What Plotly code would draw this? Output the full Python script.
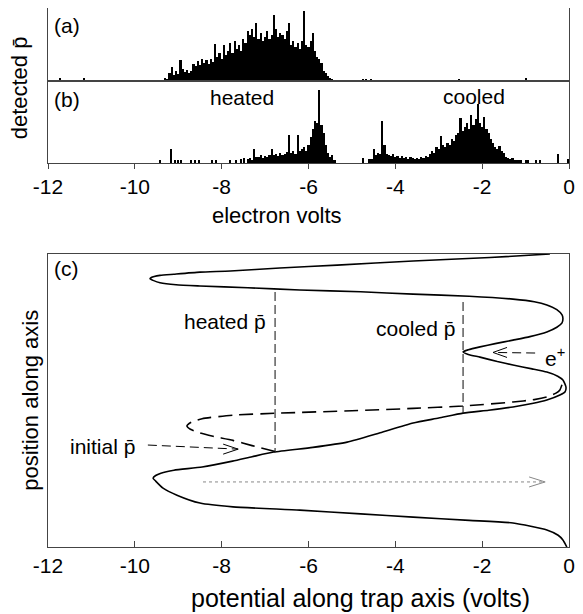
import numpy as np
import plotly.graph_objects as go

# ---- histogram data (detected antiprotons per 0.05 V bin) ----
bin_width = 0.05

# panel (a): no positrons
a_start = -9.30
a_counts = [3, 2, 8, 14, 6, 10, 7, 21, 12, 9, 11, 8, 10, 17, 15, 20, 16, 22, 18, 21,
            17, 22, 19, 37, 24, 28, 22, 36, 26, 30, 38, 28, 40, 32, 36, 30, 42, 38, 50, 46,
            52, 44, 58, 42, 48, 40, 44, 50, 42, 46, 66, 52, 44, 48, 46, 42, 50, 58, 36, 40,
            34, 38, 32, 40, 70, 36, 34, 40, 48, 30, 24, 22, 18, 10, 8, 5, 3, 2]
a_stray_energy = [-11.72, -11.17, -4.75, -4.68, -4.55, -2.53, -0.99]
a_stray_counts = [3, 3, 2, 2, 2, 2, 3]

# panel (b): with positrons, heated and cooled groups
b_heated_start = -7.40
b_heated_counts = [4, 5, 3, 14, 6, 6, 8, 5, 7, 6, 8, 14, 8, 9, 7, 10, 8, 9, 11, 28,
                   10, 12, 9, 28, 12, 14, 16, 12, 18, 26, 34, 42, 40, 73, 38, 30, 18, 10, 6, 8, 3]
b_cooled_start = -4.60
b_cooled_counts = [4, 4, 14, 8, 10, 9, 42, 18, 9, 8, 7, 9, 6, 7, 5, 7, 5, 6, 4, 6,
                   5, 4, 5, 4, 6, 5, 7, 6, 9, 12, 10, 16, 14, 27, 18, 16, 20, 18, 24, 22,
                   28, 30, 45, 32, 36, 40, 34, 48, 38, 44, 59, 40, 36, 46, 34, 30, 24, 20, 16, 14,
                   17, 12, 10, 6, 5, 4, 5, 3, 3, 3, 3, 0, 3, 3]
b_stray_energy = [-9.42, -9.17, -9.07, -9.00, -8.93, -8.70, -8.62, -8.52, -8.22, -8.12,
                  -7.80, -7.66, -7.55, -7.48, -4.75, -0.75, -0.66, -0.25, -0.02]
b_stray_counts = [3, 14, 3, 3, 3, 3, 3, 3, 3, 3, 3, 3, 4, 5, 5, 3, 3, 9, 4]

# ---- panel (c): potential along trap axis ----
solid_v = [-0.44, -1.82, -3.59, -5.34, -6.66, -7.80, -8.50, -9.10, -9.42, -9.62,
           -9.65, -9.58, -9.42, -9.05, -8.50, -7.40, -6.20, -4.80, -3.59, -2.30,
           -1.29, -0.80, -0.51, -0.28, -0.16, -0.14, -0.16, -0.28, -0.51, -0.90,
           -1.29, -1.70, -2.05, -2.32, -2.44, -2.32, -2.05, -1.65, -1.29, -0.85,
           -0.51, -0.26, -0.14, -0.07, -0.09, -0.21, -0.51, -0.85, -1.29, -1.85,
           -2.44, -3.00, -3.59, -4.35, -5.11, -5.90, -6.80, -7.30, -7.75, -8.45,
           -9.10, -9.40, -9.52, -9.58, -9.52, -9.35, -9.03, -8.50, -7.74, -6.20,
           -4.80, -3.59, -2.30, -1.29, -0.51, -0.25, -0.14, -0.05]
solid_pos = [10.00, 9.88, 9.76, 9.62, 9.52, 9.42, 9.38, 9.31, 9.27, 9.20,
             9.15, 9.10, 9.02, 8.95, 8.91, 8.85, 8.77, 8.71, 8.63, 8.56,
             8.46, 8.37, 8.26, 8.10, 7.92, 7.80, 7.65, 7.50, 7.34, 7.18,
             7.06, 6.94, 6.83, 6.73, 6.66, 6.57, 6.48, 6.33, 6.21, 6.08,
             5.97, 5.83, 5.70, 5.46, 5.30, 5.19, 5.02, 4.90, 4.78, 4.67,
             4.57, 4.40, 4.23, 3.90, 3.58, 3.40, 3.24, 3.08, 2.93, 2.73,
             2.62, 2.52, 2.44, 2.35, 2.25, 2.01, 1.77, 1.50, 1.37, 1.26,
             1.13, 1.02, 0.91, 0.82, 0.58, 0.40, 0.24, 0.00]

initial_v = [-6.77, -7.30, -7.74, -8.20, -8.50, -8.72, -8.80, -8.70, -8.45, -7.74,
             -6.66, -5.00, -3.59, -2.44, -1.29, -0.80, -0.51, -0.30, -0.21, -0.16]
initial_pos = [3.26, 3.46, 3.64, 3.78, 3.89, 4.02, 4.13, 4.26, 4.38, 4.50,
               4.57, 4.65, 4.73, 4.81, 4.95, 5.03, 5.12, 5.25, 5.36, 5.55]

heated_v = -6.77
heated_pos = [8.70, 3.26]
cooled_v = -2.44
cooled_pos = [8.36, 4.57]

tick_vals = [-12, -10, -8, -6, -4, -2, 0]
tick_labels = ["-12", "-10", "-8", "-6", "-4", "-2", "0"]

PBAR = "p\u0304"
FONT = "Liberation Sans, Arial, Helvetica, sans-serif"
AXCOL = "#444444"


def bins(start, counts):
    return [round(start + i * bin_width, 3) for i in range(len(counts))]


fig = go.Figure()

fig.add_trace(go.Bar(x=bins(a_start, a_counts), y=a_counts, width=bin_width,
                     marker=dict(color="black", line=dict(width=0)), xaxis="x", yaxis="y"))
fig.add_trace(go.Bar(x=a_stray_energy, y=a_stray_counts, width=0.025,
                     marker=dict(color="black", line=dict(width=0)), xaxis="x", yaxis="y"))

fig.add_trace(go.Bar(x=bins(b_heated_start, b_heated_counts), y=b_heated_counts, width=bin_width,
                     marker=dict(color="black", line=dict(width=0)), xaxis="x2", yaxis="y2"))
fig.add_trace(go.Bar(x=bins(b_cooled_start, b_cooled_counts), y=b_cooled_counts, width=bin_width,
                     marker=dict(color="black", line=dict(width=0)), xaxis="x2", yaxis="y2"))
fig.add_trace(go.Bar(x=b_stray_energy, y=b_stray_counts, width=0.025,
                     marker=dict(color="black", line=dict(width=0)), xaxis="x2", yaxis="y2"))

# trap potential, initial antiproton well, and energy markers
fig.add_trace(go.Scatter(x=solid_v, y=solid_pos, mode="lines", xaxis="x3", yaxis="y3",
                         line=dict(color="black", width=1.6, shape="spline", smoothing=0.55)))
fig.add_trace(go.Scatter(x=initial_v, y=initial_pos, mode="lines", xaxis="x3", yaxis="y3",
                         line=dict(color="black", width=1.6, dash="14px,7px",
                                   shape="spline", smoothing=0.55)))
for v, p in [(heated_v, heated_pos), (cooled_v, cooled_pos)]:
    fig.add_trace(go.Scatter(x=[v, v], y=p, mode="lines", xaxis="x3", yaxis="y3",
                             line=dict(color="#222222", width=1.1, dash="9px,4px")))

# arrows: dashed shafts plus thin open V heads (head size in pixels)
arrows = [((-9.70, 3.48), (-7.62, 3.34), "black", "9px,5px", 15, 5),
          ((-0.78, 6.62), (-1.75, 6.64), "black", "9px,5px", 14, 5),
          ((-8.43, 2.22), (-0.55, 2.22), "#888888", "dot", 16, 5)]
shapes = []
for (x0, y0), (x1, y1), col, dash, hl, hw in arrows:
    shapes.append(dict(type="line", xref="x3", yref="y3", x0=x0, y0=y0, x1=x1, y1=y1,
                       line=dict(color=col, width=1, dash=dash)))
    back = -hl if x1 > x0 else hl
    for side in (hw, -hw):
        shapes.append(dict(type="line", xref="x3", yref="y3", xsizemode="pixel",
                           ysizemode="pixel", xanchor=x1, yanchor=y1,
                           x0=0, y0=0, x1=back, y1=side,
                           line=dict(color=col, width=1)))

annotations = []
label_font = dict(family=FONT, size=21, color="black")
texts = [
    ("(a)", "x", "y", -11.9, 56, "left"),
    ("(b)", "x2", "y2", -11.9, 63, "left"),
    ("heated", "x2", "y2", -7.53, 65, "center"),
    ("cooled", "x2", "y2", -2.19, 66, "center"),
    ("(c)", "x3", "y3", -11.9, 9.52, "left"),
    ("heated " + PBAR, "x3", "y3", -6.93, 7.68, "right"),
    ("cooled " + PBAR, "x3", "y3", -2.58, 7.47, "right"),
    ("initial " + PBAR, "x3", "y3", -9.95, 3.42, "right"),
    ("e<sup>+</sup>", "x3", "y3", -0.32, 6.48, "center"),
]
for t, xr, yr, x, y, anc in texts:
    annotations.append(dict(text=t, xref=xr, yref=yr, x=x, y=y, xanchor=anc,
                            yanchor="middle", showarrow=False, font=label_font))

title_font = dict(family=FONT, size=22, color="black")
annotations += [
    dict(text="electron volts", xref="paper", yref="paper", x=0.44, y=(547 - 215) / 539,
         xanchor="center", yanchor="middle", showarrow=False, font=title_font),
    dict(text="potential along trap axis (volts)", xref="paper", yref="paper", x=0.6,
         y=(547 - 598) / 539, xanchor="center", yanchor="middle", showarrow=False,
         font=dict(family=FONT, size=25, color="black")),
    dict(text="detected " + PBAR, xref="paper", yref="paper", x=-0.055,
         y=(547 - 88) / 539, xanchor="center", yanchor="middle", textangle=-90,
         showarrow=False, font=title_font),
    dict(text="position along axis", xref="paper", yref="paper", x=-0.035,
         y=(547 - 400) / 539, xanchor="center", yanchor="middle", textangle=-90,
         showarrow=False, font=title_font),
]

frame = dict(showline=True, mirror=True, linecolor=AXCOL, linewidth=1,
             showgrid=False, zeroline=False)
tick_font = dict(family=FONT, size=21, color="black")

# the page adds an 8 px body margin, so the figure is drawn 8 px smaller than the window
fig.update_layout(
    width=575, height=606,
    margin=dict(l=40, r=14, t=0, b=67),
    paper_bgcolor="white", plot_bgcolor="white",
    showlegend=False, bargap=0,
    font=dict(family=FONT, color="black"),
    xaxis=dict(domain=[0, 1], range=[-12, 0], anchor="y", showticklabels=False,
               ticks="", **frame),
    yaxis=dict(domain=[0.8646, 1], range=[0, 73], anchor="x", showticklabels=False,
               ticks="", **frame),
    xaxis2=dict(domain=[0, 1], range=[-12, 0], anchor="y2", tickvals=tick_vals,
                ticktext=tick_labels, ticks="outside", ticklen=5, tickcolor=AXCOL,
                tickfont=tick_font, **frame),
    yaxis2=dict(domain=[0.7124, 0.8646], range=[0, 82], anchor="x2",
                showticklabels=False, ticks="", **frame),
    xaxis3=dict(domain=[0, 1], range=[-12, 0], anchor="y3", tickvals=tick_vals,
                ticktext=tick_labels, ticks="inside", ticklen=6, tickcolor=AXCOL,
                tickfont=tick_font, **frame),
    yaxis3=dict(domain=[0, 0.5436], range=[0, 10], anchor="x3",
                showticklabels=False, ticks="", **frame),
    shapes=shapes,
    annotations=annotations,
)

fig.write_html("out.html")
